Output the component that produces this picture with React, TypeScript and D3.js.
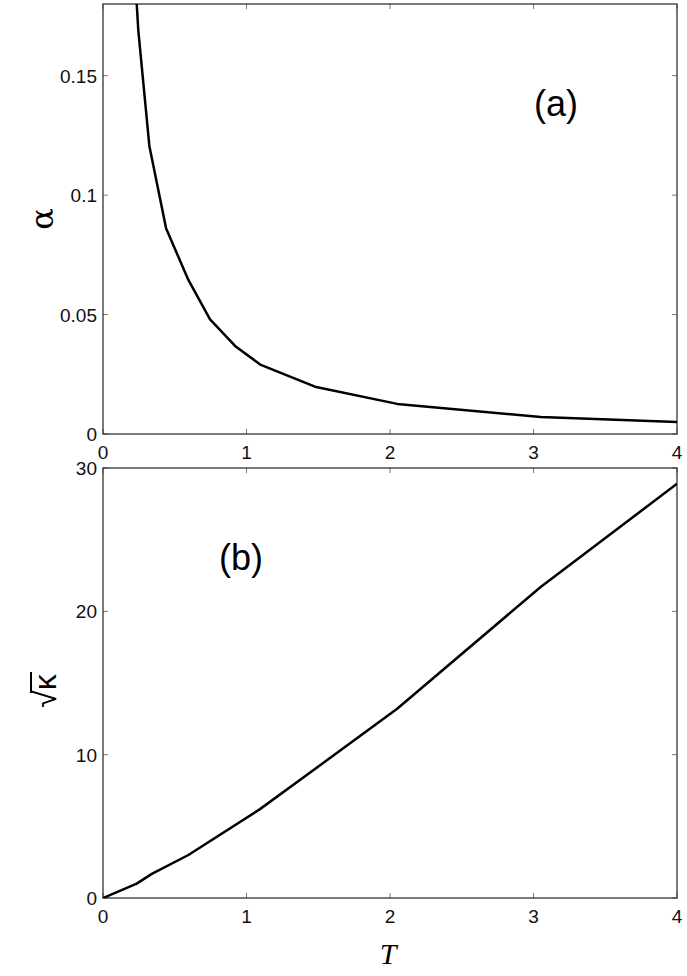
import * as d3 from "d3";

// panel (a): alpha vs T
const tA = [0.2, 0.246, 0.323, 0.44, 0.595, 0.746, 0.927, 1.1, 1.477, 2.05, 3.05, 4.0];
const alpha = [0.215, 0.169, 0.1206, 0.086, 0.0645, 0.048, 0.0365, 0.0289, 0.0198, 0.0126, 0.0071, 0.005];

// panel (b): sqrt(kappa) vs T
const tB = [0, 0.235, 0.34, 0.595, 1.094, 1.477, 2.05, 3.05, 4.0];
const sqrtKappa = [0, 1.0, 1.68, 3.0, 6.2, 9.0, 13.2, 21.7, 28.9];

const xTicks = [0, 1, 2, 3, 4];
const aTicks = [0, 0.05, 0.1, 0.15];
const aTickLabels = ["0", "0.05", "0.1", "0.15"];
const bTicks = [0, 10, 20, 30];

const W = 687;
const H = 976;
const left = 103;
const right = 677;
const topA = 4;
const botA = 434;
const topB = 468;
const botB = 898;

const font = "'Liberation Sans', Arial, Helvetica, sans-serif";

type Pt = [number, number];

function Frame({
  y,
  top,
  bottom,
  yTicks,
  yLabels,
}: {
  y: d3.ScaleLinear<number, number>;
  top: number;
  bottom: number;
  yTicks: number[];
  yLabels: string[];
}) {
  const x = d3.scaleLinear().domain([0, 4]).range([left, right]);
  const tl = 5;
  return (
    <g>
      {xTicks.map((t) => (
        <g key={"x" + t}>
          <line x1={x(t)} x2={x(t)} y1={bottom} y2={bottom - tl} stroke="#777" />
          <line x1={x(t)} x2={x(t)} y1={top} y2={top + tl} stroke="#777" />
          <text
            x={x(t)}
            y={bottom + 25}
            textAnchor="middle"
            fontFamily={font}
            fontSize={19}
            fill="#111"
          >
            {t}
          </text>
        </g>
      ))}
      {yTicks.map((t, i) => (
        <g key={"y" + t}>
          <line x1={left} x2={left + tl} y1={y(t)} y2={y(t)} stroke="#777" />
          <line x1={right} x2={right - tl} y1={y(t)} y2={y(t)} stroke="#777" />
          <text
            x={left - 6}
            y={y(t) + 7}
            textAnchor="end"
            fontFamily={font}
            fontSize={19}
            fill="#111"
          >
            {yLabels[i]}
          </text>
        </g>
      ))}
      <rect
        x={left}
        y={top}
        width={right - left}
        height={bottom - top}
        fill="none"
        stroke="#333"
        strokeWidth={1.3}
      />
    </g>
  );
}

export default function App() {
  const x = d3.scaleLinear().domain([0, 4]).range([left, right]);
  const yA = d3.scaleLinear().domain([0, 0.18]).range([botA, topA]);
  const yB = d3.scaleLinear().domain([0, 30]).range([botB, topB]);

  const lineA = d3
    .line<Pt>()
    .x((d) => x(d[0]))
    .y((d) => yA(d[1]));
  const lineB = d3
    .line<Pt>()
    .x((d) => x(d[0]))
    .y((d) => yB(d[1]));

  const ptsA: Pt[] = tA.map((t, i) => [t, alpha[i]]);
  const ptsB: Pt[] = tB.map((t, i) => [t, sqrtKappa[i]]);

  return (
    <svg
      width={W}
      height={H}
      style={{ position: "absolute", left: 0, top: 0, background: "#fff" }}
    >
      <defs>
        <clipPath id="clipA">
          <rect x={left} y={topA} width={right - left} height={botA - topA} />
        </clipPath>
        <clipPath id="clipB">
          <rect x={left} y={topB} width={right - left} height={botB - topB} />
        </clipPath>
      </defs>
      <rect width={W} height={H} fill="#fff" />

      <Frame
        y={yA}
        top={topA}
        bottom={botA}
        yTicks={aTicks}
        yLabels={aTickLabels}
      />
      <path
        d={lineA(ptsA) || ""}
        fill="none"
        stroke="#000"
        strokeWidth={2.5}
        strokeLinejoin="round"
        clipPath="url(#clipA)"
      />

      <Frame
        y={yB}
        top={topB}
        bottom={botB}
        yTicks={bTicks}
        yLabels={bTicks.map(String)}
      />
      <path
        d={lineB(ptsB) || ""}
        fill="none"
        stroke="#000"
        strokeWidth={2.5}
        strokeLinejoin="round"
        clipPath="url(#clipB)"
      />

      {/* panel tags */}
      <text x={556} y={116} textAnchor="middle" fontFamily={font} fontSize={36} fill="#000">
        (a)
      </text>
      <text x={241} y={570} textAnchor="middle" fontFamily={font} fontSize={36} fill="#000">
        (b)
      </text>

      {/* y labels */}
      <text
        transform={`translate(53, ${(topA + botA) / 2}) rotate(-90)`}
        textAnchor="middle"
        fontFamily="'DejaVu Serif', 'Liberation Serif', serif"
        fontSize={32}
        fill="#000"
      >
        α
      </text>
      <g transform={`translate(56, 691) rotate(-90)`}>
        <text
          x={0}
          y={0}
          textAnchor="middle"
          fontFamily={font}
          fontSize={32}
          fill="#000"
        >
          √κ
        </text>
        <line x1={-2} x2={19} y1={-25} y2={-25} stroke="#000" strokeWidth={2} />
      </g>

      {/* x label */}
      <text
        x={388}
        y={964}
        textAnchor="middle"
        fontFamily="'Liberation Serif', 'Times New Roman', serif"
        fontStyle="italic"
        fontSize={30}
        fill="#000"
      >
        T
      </text>
    </svg>
  );
}
